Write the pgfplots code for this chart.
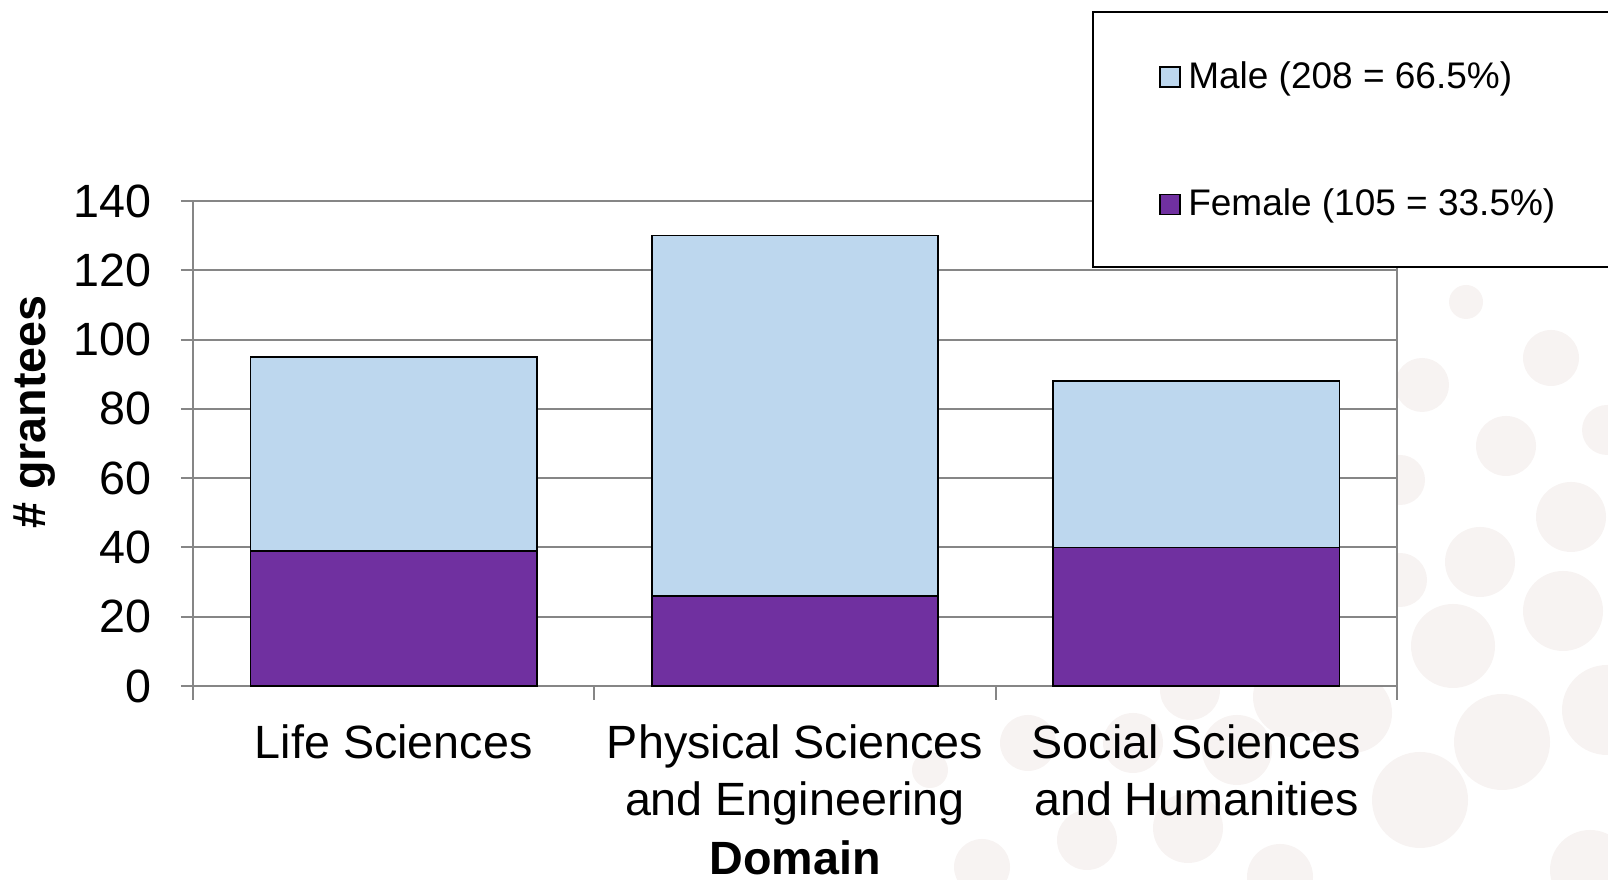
\documentclass[border=0pt]{standalone}
\usepackage{pgfplots}
\pgfplotsset{compat=1.18}
\usepackage{fontspec}
\setmainfont{Liberation Sans}
\definecolor{maleblue}{RGB}{189,215,238}
\definecolor{femalepurple}{RGB}{112,48,160}
\definecolor{gridgray}{RGB}{134,134,134}
\definecolor{dotcol}{RGB}{247,243,242}
\begin{document}
\begin{tikzpicture}
\path[use as bounding box] (0,0) rectangle (482.4pt,264pt);
% decorative background dots
\foreach \x/\y/\r in {1466/302/17, 1551/358/28, 1422/385/27, 1506/446/30, 1607/430/25,
  1400/480/25, 1480/562/35, 1571/517/35, 1400/580/27, 1563/611/40, 1453/646/42,
  1352/713/40, 1502/742/48, 1607/710/45, 1420/800/48, 1028/743/28, 930/770/18,
  1133/743/30, 1237/750/35, 1087/840/30, 1188/828/35, 982/867/28, 1280/877/33,
  1293/697/40, 1190/690/30, 1590/870/40}
  {\fill[dotcol] ({\x*0.3pt},{(880-\y)*0.3pt}) circle ({\r*0.3pt});}
\begin{axis}[
  at={(57.9pt,58.2pt)}, anchor=south west,
  scale only axis, width=361.2pt, height=145.5pt,
  axis background/.style={fill=white},
  clip=false,
  ybar stacked, bar width=0.713,
  xmin=-0.5, xmax=2.5, ymin=0, ymax=140,
  xtick={0,1,2},
  xticklabels={Life Sciences,{Physical Sciences\\and Engineering},{Social Sciences\\and Humanities}},
  minor xtick={-0.5,0.5,1.5,2.5},
  ytick={0,20,40,60,80,100,120,140},
  tick align=outside, tick pos=left,
  major tick length=3.6pt, minor tick length=4.2pt,
  major x tick style={draw=none},
  tick style={draw=gridgray, line width=0.6pt},
  axis line style={draw=gridgray, line width=0.6pt},
  ymajorgrids, grid style={draw=gridgray, line width=0.6pt},
  /pgf/number format/assume math mode=true,
  yticklabel style={font=\fontsize{14}{17}\selectfont, xshift=-5.4pt},
  xticklabel style={font=\fontsize{14}{17.1}\selectfont, align=center, yshift=-4.5pt},
  xlabel={Domain},
  xlabel style={at={(axis description cs:0.5,-0.3897)}, anchor=base, font=\bfseries\fontsize{14}{17}\selectfont},
  ylabel={\# grantees},
  ylabel style={at={(axis description cs:-0.132,0.565)}, anchor=center, font=\bfseries\fontsize{14}{17}\selectfont},
  reverse legend,
  legend cell align=left,
  legend style={at={(axis description cs:0.802,1.124)}, anchor=west, draw=none, fill=none,
    font=\fontsize{11.1}{13}\selectfont, inner sep=0pt, row sep=28.6pt, column sep=2.2pt,
    nodes={inner sep=0pt}},
  sqlegend/.style={legend image code/.code={\draw[##1, draw=black, line width=0.5pt] (0pt,-3pt) rectangle (6pt,3pt);}},
]
\addplot[fill=femalepurple, draw=black, line width=0.5pt, sqlegend] coordinates {(0,39) (1,26) (2,40)};
\addlegendentry{Female (105 = 33.5\%)}
\addplot[fill=maleblue, draw=black, line width=0.5pt, sqlegend] coordinates {(0,56) (1,104) (2,48)};
\addlegendentry{Male (208 = 66.5\%)}
\draw[black, line width=0.6pt, fill=white] (axis description cs:0.7475,0.8639) rectangle (axis description cs:1.2,1.3897);
\end{axis}
\end{tikzpicture}
\end{document}
